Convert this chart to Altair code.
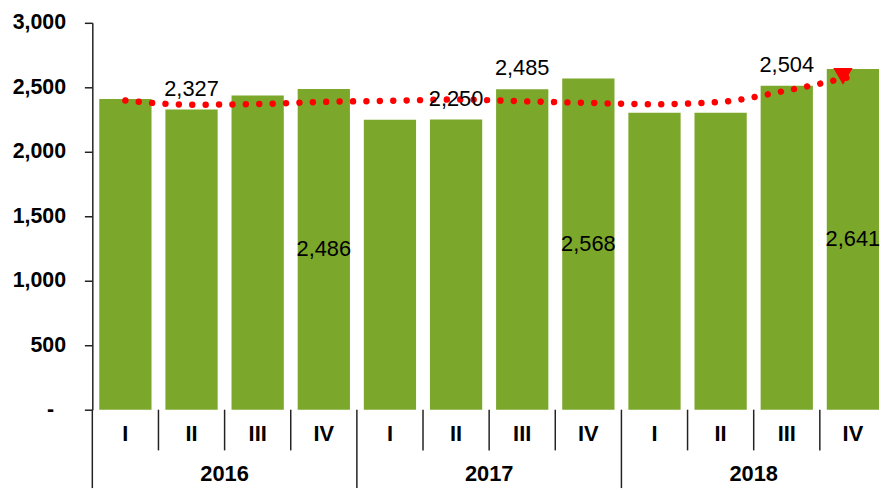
import altair as alt
import pandas as pd

years = ["2016", "2016", "2016", "2016", "2017", "2017", "2017", "2017", "2018", "2018", "2018", "2018"]
quarters = ["I", "II", "III", "IV", "I", "II", "III", "IV", "I", "II", "III", "IV"]
values = [2410, 2327, 2436, 2486, 2248, 2250, 2485, 2568, 2302, 2302, 2512, 2641]
label_text = ["", "2,327", "", "2,486", "", "2,250", "2,485", "2,568", "", "", "2,504", "2,641"]
label_place = ["", "above", "", "inside", "", "above", "above", "inside", "", "", "above", "inside"]
trend = [2398, 2365, 2370, 2387, 2395, 2405, 2392, 2379, 2369, 2387, 2475, 2585]

cats = [f"{y}-{q}" for y, q in zip(years, quarters)]
df = pd.DataFrame({
    "cat": cats, "year": years, "quarter": quarters, "value": values,
    "label": label_text, "place": label_place, "trend": trend,
})

FONT = "Liberation Sans"
GREEN = "#7BA72B"
RED = "#FF0000"

xenc = alt.X("cat:N", sort=cats, scale=alt.Scale(paddingInner=0, paddingOuter=0), axis=None)
yscale = alt.Scale(domain=[0, 3000], nice=False)

base = alt.Chart(df)

bars = base.mark_bar(color=GREEN, width={"band": 0.79}).encode(
    x=xenc,
    y=alt.Y("value:Q", scale=yscale, title=None,
            axis=alt.Axis(values=[0, 500, 1000, 1500, 2000, 2500, 3000],
                          labelExpr="datum.value == 0 ? '-' : format(datum.value, ',')",
                          grid=False, tickSize=8,
                          labelPadding={"condition": {"test": "datum.value == 0", "value": 31}, "value": 19},
                          labelFont=FONT, labelFontSize=21.5, labelFontWeight="bold",
                          labelColor="#000", domainColor="#222", tickColor="#222",
                          domainWidth=1.5, tickWidth=1.5)),
)

line = base.mark_line(color=RED, strokeWidth=6.5, strokeDash=[0.01, 13.5],
                      strokeCap="round", interpolate="monotone").encode(
    x=xenc, y=alt.Y("trend:Q", scale=yscale)
)

arrow = base.transform_filter(alt.datum.cat == cats[-1]).mark_point(
    shape="triangle-down", filled=True, size=380, color=RED, opacity=1, xOffset=-10
).encode(x=xenc, y=alt.Y("trend:Q", scale=yscale))

lab_above = base.transform_filter(alt.datum.place == "above").mark_text(
    font=FONT, fontSize=22, color="#000", baseline="middle", dy=-21
).encode(x=xenc, y=alt.Y("value:Q", scale=yscale), text="label:N")

lab_inside = base.transform_filter(alt.datum.place == "inside").transform_calculate(
    mid="datum.value / 2"
).mark_text(font=FONT, fontSize=22, color="#000", baseline="middle").encode(
    x=xenc, y=alt.Y("mid:Q", scale=yscale), text="label:N")

xsep = alt.X("cat:N", sort=cats, scale=alt.Scale(paddingInner=0, paddingOuter=0), axis=None, bandPosition=0)

short_rules = base.transform_filter(alt.datum.quarter != "I").mark_rule(
    color="#222", strokeWidth=1.5
).encode(x=xsep, y=alt.value(390), y2=alt.value(431))

long_rules = base.transform_filter(alt.datum.quarter == "I").mark_rule(
    color="#222", strokeWidth=1.5
).encode(x=xsep, y=alt.value(390), y2=alt.value(469))

q_labels = base.mark_text(font=FONT, fontSize=22, fontWeight="bold", color="#000",
                          baseline="middle").encode(
    x=xenc, y=alt.value(415), text="quarter:N")

y_labels = base.transform_filter(alt.datum.quarter == "III").mark_text(
    font=FONT, fontSize=22, fontWeight="bold", color="#000", baseline="middle"
).encode(x=xsep, y=alt.value(455), text="year:N")

chart = alt.layer(
    bars, line, arrow, lab_above, lab_inside, short_rules, long_rules, q_labels, y_labels
).properties(
    width=800, height=390,
    autosize=alt.AutoSizeParams(type="none"),
    padding={"left": 85, "top": 13, "right": -4, "bottom": 79},
).configure_view(stroke=None)

chart.save("out.html", embed_options={"renderer": "svg", "actions": False})
